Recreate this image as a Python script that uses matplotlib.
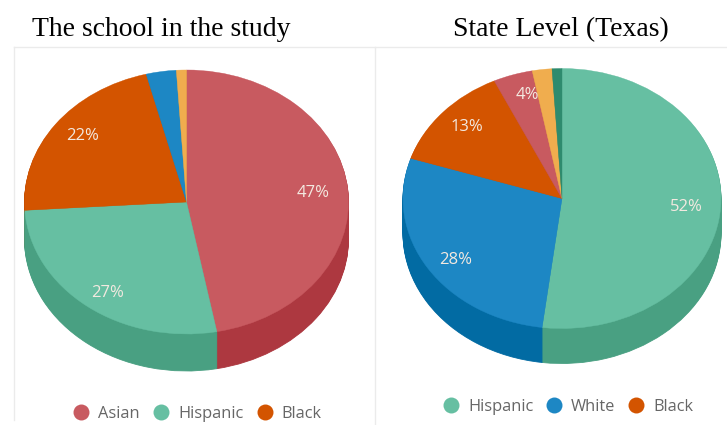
import matplotlib
matplotlib.use('Agg')
import matplotlib.pyplot as plt
from matplotlib.lines import Line2D

W, H = 727, 425

school_groups = ['Asian', 'Hispanic', 'Black', 'Other 1', 'Other 2']
school_values = [47, 27, 22, 3, 1]
school_labels = ['47%', '27%', '22%', '', '']
school_legend = ['Asian', 'Hispanic', 'Black']

state_groups = ['Hispanic', 'White', 'Black', 'Asian', 'Other 1', 'Other 2']
state_values = [52, 28, 13, 4, 2, 1]
state_labels = ['52%', '28%', '13%', '4%', '', '']
state_legend = ['Hispanic', 'White', 'Black']

top_colors = {'Asian': '#C85A60', 'Hispanic': '#66BFA2', 'Black': '#D35400',
              'White': '#1D87C4', 'Other 1': '#F0AD4E', 'Other 2': '#2E8B6E'}
side_colors = {'Asian': '#AD3840', 'Hispanic': '#49A082', 'Black': '#B04500',
               'White': '#026BA3', 'Other 1': '#D09030', 'Other 2': '#1E6B50'}
school_top = [top_colors[g] for g in school_groups[:3]] + ['#1D87C4', '#F0AD4E']
school_side = [side_colors[g] for g in school_groups[:3]] + ['#026BA3', '#D09030']
state_top = [top_colors[g] for g in state_groups]
state_side = [side_colors[g] for g in state_groups]


def draw_pie(values, colors, sides, cx, cy, rx, ry, depth):
    # axes box is the ellipse plus the side wall, in pixels
    ax = fig.add_axes([(cx - rx) / W, 1 - (cy + ry + depth) / H,
                       2 * rx / W, (2 * ry + depth) / H])
    # side wall: dark copies stepped down one pixel at a time
    for dy in range(depth, 0, -1):
        wedges, _ = ax.pie(values, colors=sides, startangle=90, counterclock=False,
                           center=(0, -dy / ry))
        for w, c in zip(wedges, sides):
            w.set_edgecolor(c)
            w.set_linewidth(0.6)
    wedges, _ = ax.pie(values, colors=colors, startangle=90, counterclock=False)
    for w, c in zip(wedges, colors):
        w.set_edgecolor(c)
        w.set_linewidth(0.3)
    ax.set_aspect('auto')
    ax.set_xlim(-1, 1)
    ax.set_ylim(-1 - depth / ry, 1)
    ax.axis('off')
    return ax


def add_legend(names, colors, x, y, spacing):
    handles = [Line2D([], [], linestyle='', marker='o', markersize=11.5, markeredgewidth=0, color=c)
               for c in colors]
    leg = fig.legend(handles, names, loc='center', bbox_to_anchor=(x / W, 1 - y / H), ncol=3,
                     frameon=False, labelcolor='#666666', handletextpad=0.05,
                     columnspacing=spacing, prop={'family': 'Open Sans', 'size': 11.8})
    return leg


fig = plt.figure(figsize=(W / 100, H / 100), dpi=100, facecolor='white')

# faint panel lines behind the pies
bg = fig.add_axes([0, 0, 1, 1])
bg.set_xlim(0, W)
bg.set_ylim(H, 0)
bg.axis('off')
bg.plot([14, W], [47, 47], color='#EBEBEB', linewidth=1)
bg.plot([14, 14], [47, 420], color='#EBEBEB', linewidth=1)
bg.plot([375, 375], [47, H], color='#EBEBEB', linewidth=1)

draw_pie(school_values, school_top, school_side, 186.5, 202, 162, 132, 37)
draw_pie(state_values, state_top, state_side, 562, 198.5, 159, 130, 35)

# text layer on top of the pies
tx = fig.add_axes([0, 0, 1, 1])
tx.set_xlim(0, W)
tx.set_ylim(H, 0)
tx.axis('off')

tx.text(161, 36, 'The school in the study', ha='center', va='baseline',
        family='Liberation Serif', fontsize=20, color='black')
tx.text(560.5, 36, 'State Level (Texas)', ha='center', va='baseline',
        family='Liberation Serif', fontsize=20, color='black')

school_pos = [(313, 193), (108, 293), (83, 136)]
state_pos = [(686, 207), (456, 260), (467, 127), (527, 95)]
for lab, (x, y) in zip(school_labels[:3], school_pos):
    tx.text(x, y, lab, ha='center', va='center', family='Open Sans', fontsize=12, color='#F3E9E0')
for lab, (x, y) in zip(state_labels[:4], state_pos):
    tx.text(x, y, lab, ha='center', va='center', family='Open Sans', fontsize=12, color='#F3E9E0')

add_legend(school_legend, [top_colors[n] for n in school_legend], 193, 414, 0.3)
add_legend(state_legend, [top_colors[n] for n in state_legend], 564, 407, 0.25)

fig.savefig('out.png', dpi=100)
